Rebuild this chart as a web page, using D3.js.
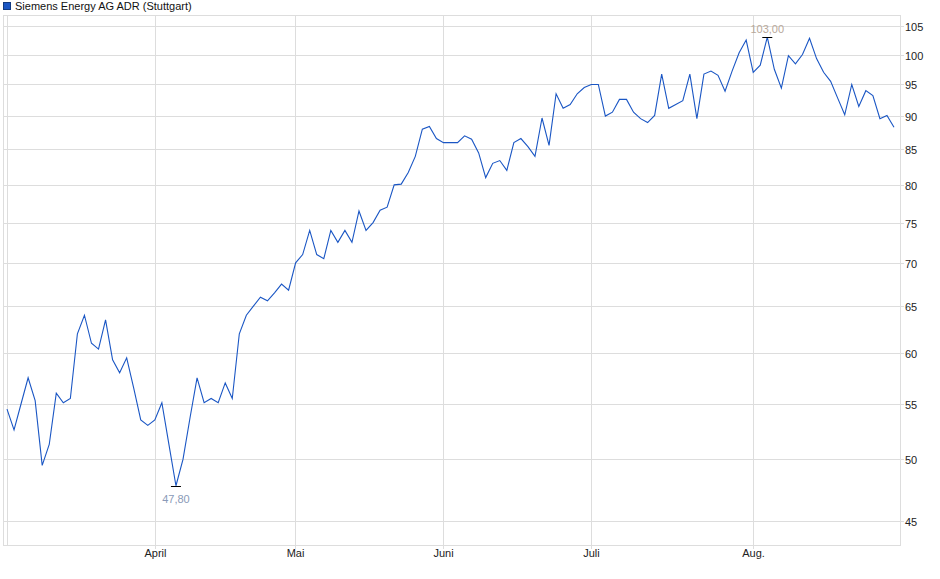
<!DOCTYPE html>
<html><head><meta charset="utf-8">
<script src="https://cdn.jsdelivr.net/npm/d3@7"></script>
<style>body{margin:0;background:#fff}svg{display:block;font-family:"Liberation Sans",Arial,sans-serif}</style>
</head><body>
<svg id="c" width="940" height="579"></svg>
<script>
const title = "Siemens Energy AG ADR (Stuttgart)";
const prices = [54.5,52.6,55.0,57.5,55.3,49.5,51.3,56.0,55.1,55.5,62.0,64.0,61.0,60.4,63.5,59.3,58.0,59.5,56.5,53.5,53.0,53.5,55.1,51.3,47.8,50.0,53.7,57.5,55.1,55.5,55.1,57.0,55.5,62.0,64.0,65.0,66.0,65.6,66.5,67.5,66.8,70.0,71.0,74.0,71.0,70.5,74.0,72.5,74.0,72.5,76.5,74.0,75.0,76.6,77.0,80.0,80.1,81.7,84.0,88.0,88.4,86.6,86.0,86.0,86.0,87.0,86.5,84.5,81.0,83.0,83.4,82.0,86.0,86.6,85.4,84.0,89.7,85.6,93.5,91.2,91.8,93.5,94.5,95.0,95.0,90.0,90.6,92.6,92.6,90.6,89.6,89.0,90.1,96.7,91.2,91.8,92.4,96.7,89.6,96.7,97.2,96.5,93.9,97.2,100.3,102.5,97.0,98.2,103.0,97.5,94.4,99.8,98.4,100.0,102.8,99.3,97.0,95.5,92.8,90.2,95.0,91.5,94.0,93.2,89.6,90.1,88.3];
const monthLabels = ["April","Mai","Juni","Juli","Aug."];
const monthStartIdx = [21.0,40.9,61.9,83.0,105.9];
const yTicks = [45,50,55,60,65,70,75,80,85,90,95,100,105];

const svg = d3.select("#c");
const L=3, R=900, T=15, B=545;
const x = d3.scaleLinear().domain([0, prices.length-1]).range([7, 894]);
const y = d3.scaleLog().domain([45,105]).range([521,26]);

svg.append("rect").attr("x",L+0.5).attr("y",T+0.5).attr("width",R-L).attr("height",B-T).attr("fill","none").attr("stroke","#ddd");
svg.append("line").attr("x1",7.5).attr("x2",7.5).attr("y1",T).attr("y2",B).attr("stroke","#ddd");
const g = svg.append("g");
yTicks.forEach(t=>{
  const yy=Math.round(y(t))+0.5;
  g.append("line").attr("x1",L).attr("x2",R+4).attr("y1",yy).attr("y2",yy).attr("stroke","#ddd");
  g.append("text").attr("x",905).attr("y",yy+4).attr("font-size",11).attr("fill","#222").text(t);
});
monthStartIdx.forEach((m,i)=>{
  const xx=Math.round(x(m))+0.5;
  g.append("line").attr("x1",xx).attr("x2",xx).attr("y1",T).attr("y2",B+4).attr("stroke","#ddd");
  g.append("text").attr("x",xx).attr("y",557).attr("text-anchor","middle").attr("font-size",11).attr("fill","#222").text(monthLabels[i]);
});
svg.append("path").datum(prices).attr("fill","none").attr("stroke","#1a56c4").attr("stroke-width",1.1)
  .attr("d",d3.line().x((d,i)=>x(i)).y(d=>y(d)));
// min / max markers
const iMin = d3.minIndex(prices), iMax = d3.maxIndex(prices);
[[iMin,16,"#8a9ab8"],[iMax,-5,"#b8a89a"]].forEach(([i,dy,c])=>{
  const xx=x(i), yy=Math.round(y(prices[i]))+0.5;
  svg.append("line").attr("x1",xx-5).attr("x2",xx+5).attr("y1",yy).attr("y2",yy).attr("stroke","#000");
  svg.append("text").attr("x",xx).attr("y",yy+dy).attr("text-anchor","middle").attr("font-size",11).attr("fill",c)
    .text(prices[i].toFixed(2).replace(".",","));
});
svg.append("rect").attr("x",3.5).attr("y",2.5).attr("width",7).attr("height",7).attr("fill","#1a56c4").attr("stroke","#123a80");
svg.append("text").attr("x",15).attr("y",10).attr("font-size",11).attr("fill","#111").text(title);
</script></body></html>
